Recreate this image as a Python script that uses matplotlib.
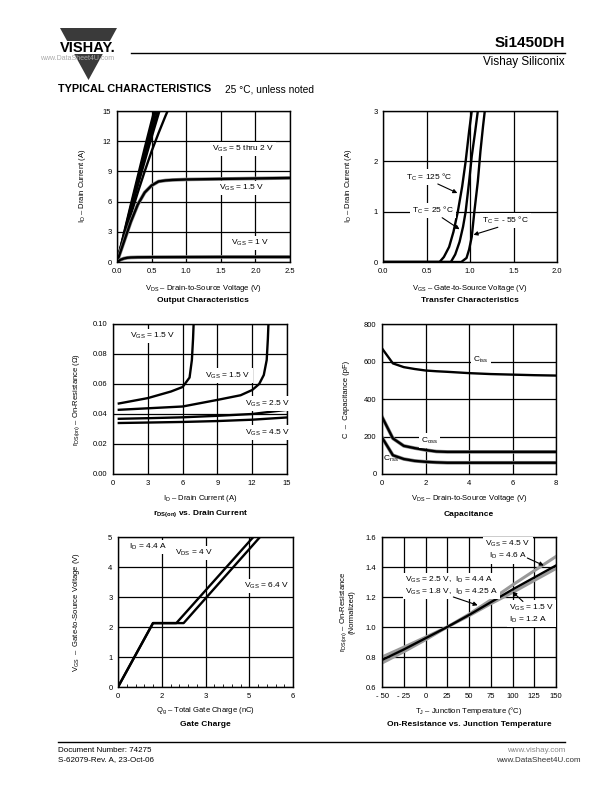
import matplotlib

matplotlib.use("Agg")
import matplotlib.pyplot as plt
from matplotlib.patches import Polygon, Rectangle

# ---- data ----
# Output characteristics (VDS in V, ID in A)
out_vds_steep = [0, 0.1, 0.2, 0.3, 0.4, 0.5, 0.6, 0.7]
out_id_5v = [0, 2.85, 5.7, 8.5, 11.3, 14.0, 16.6, 19.0]
out_id_4v = [0, 2.75, 5.5, 8.2, 10.9, 13.5, 16.0, 18.4]
out_id_3v = [0, 2.65, 5.3, 7.9, 10.4, 12.9, 15.3, 17.6]
out_id_25v = [0, 2.55, 5.1, 7.6, 10.0, 12.4, 14.7, 17.0]
out_vds_2v = [0, 0.1, 0.2, 0.3, 0.4, 0.5, 0.6, 0.7, 0.8]
out_id_2v = [0, 2.4, 4.7, 6.9, 9.0, 11.0, 12.8, 14.5, 16.1]
out_vds_15v = [0, 0.05, 0.1, 0.2, 0.3, 0.4, 0.5, 0.6, 0.7, 0.8, 1.0, 1.5, 2.0, 2.5]
out_id_15v = [0, 1.0, 2.0, 4.0, 5.7, 6.9, 7.6, 8.0, 8.1, 8.15, 8.2, 8.25, 8.3, 8.35]
out_vds_1v = [0, 0.05, 0.1, 0.15, 0.2, 0.3, 0.5, 1.0, 1.5, 2.0, 2.5]
out_id_1v = [0, 0.22, 0.35, 0.42, 0.45, 0.47, 0.48, 0.49, 0.5, 0.5, 0.5]

# Transfer characteristics (VGS in V, ID in A)
tr_vgs_125 = [0, 0.65, 0.7, 0.76, 0.81, 0.86, 0.91, 0.95, 0.99, 1.02]
tr_id_125 = [0, 0, 0.1, 0.3, 0.6, 1.0, 1.5, 2.0, 2.6, 3.0]
tr_vgs_25 = [0, 0.78, 0.83, 0.88, 0.92, 0.95, 0.99, 1.02, 1.06, 1.09]
tr_id_25 = [0, 0, 0.15, 0.4, 0.7, 1.0, 1.6, 2.1, 2.6, 3.0]
tr_vgs_m55 = [0, 0.9, 0.96, 0.99, 1.02, 1.05, 1.09, 1.12, 1.15, 1.17]
tr_id_m55 = [0, 0, 0.08, 0.25, 0.5, 1.0, 1.6, 2.2, 2.7, 3.0]

# rDS(on) vs drain current (ID in A, r in ohm)
ron_id_a = [0.5, 3, 5, 6, 6.6, 6.8, 6.9, 6.95]
ron_r_a = [0.047, 0.0506, 0.055, 0.058, 0.0643, 0.076, 0.09, 0.10]
ron_id_b = [0.5, 3, 6, 9, 11, 12, 12.6, 13.0, 13.25, 13.35, 13.4]
ron_r_b = [0.0428, 0.0438, 0.045, 0.0494, 0.0525, 0.056, 0.060, 0.066, 0.076, 0.09, 0.10]
ron_id_c = [0.5, 3, 6, 9, 12, 15]
ron_r_25v = [0.0368, 0.0372, 0.0378, 0.0388, 0.0400, 0.0428]
ron_r_45v = [0.0340, 0.0343, 0.0347, 0.0353, 0.0362, 0.0377]

# Capacitance (VDS in V, C in pF)
cap_vds = [0, 0.5, 1, 1.5, 2, 2.5, 3, 4, 5, 6, 7, 8]
cap_ciss = [670, 590, 570, 560, 552, 548, 545, 538, 533, 530, 527, 525]
cap_coss = [305, 190, 150, 138, 128, 120, 118, 118, 118, 118, 118, 118]
cap_crss = [195, 100, 80, 70, 65, 62, 60, 60, 60, 60, 60, 60]

# Gate charge (Qg in nC, VGS in V)
gc_qg_4v = [0, 1.2, 2.0, 4.64]
gc_vgs_4v = [0, 2.13, 2.13, 5.0]
gc_qg_64v = [0, 1.2, 2.25, 4.87]
gc_vgs_64v = [0, 2.13, 2.13, 5.0]
gc_ticks = [0, 1.5, 3, 4.5, 6]
gc_ticklabels = ["0", "2", "3", "5", "6"]

# On-resistance vs junction temperature
tj = [-50, -25, 0, 25, 50, 75, 100, 125, 150]
rn_45v = [0.78, 0.85, 0.925, 1.0, 1.08, 1.165, 1.25, 1.33, 1.41]
rn_25v = [0.80, 0.865, 0.932, 1.0, 1.085, 1.18, 1.28, 1.375, 1.47]
rn_15v = [0.76, 0.835, 0.915, 1.0, 1.075, 1.155, 1.23, 1.31, 1.39]
tj_ticklabels = ["- 50", "- 25", "0", "25", "50", "75", "100", "125", "150"]

W, H = 612, 792
plt.rcParams["font.family"] = ["Liberation Sans", "DejaVu Sans"]
plt.rcParams["mathtext.fontset"] = "custom"
plt.rcParams["mathtext.rm"] = "Liberation Sans"
plt.rcParams["mathtext.bf"] = "Liberation Sans:bold"
plt.rcParams["mathtext.default"] = "regular"

FS = 5.5
LFS = 6.0
LW = 1.7

fig = plt.figure(figsize=(W / 100, H / 100), dpi=100)
fig.patch.set_facecolor("white")


def add_ax(l, t, r, b):
    ax = fig.add_axes([l / W, 1 - b / H, (r - l) / W, (b - t) / H])
    for s in ax.spines.values():
        s.set_linewidth(1.0)
    ax.grid(True, color="black", lw=0.9)
    ax.set_axisbelow(True)
    ax.tick_params(length=0, labelsize=FS, pad=4)
    return ax


def ftext(x, y, s, **kw):
    kw.setdefault("fontsize", FS)
    fig.text(x / W, 1 - y / H, s, **kw)


def label(ax, x, y, s, **kw):
    kw.setdefault("ha", "center")
    kw.setdefault("va", "center")
    ax.text(x, y, s, fontsize=LFS, zorder=4,
            bbox=dict(facecolor="white", edgecolor="none", pad=1.5), **kw)


def arrow(ax, tail, head):
    ax.annotate("", xy=head, xytext=tail, zorder=5,
                arrowprops=dict(arrowstyle="-|>", lw=0.8, color="black",
                                mutation_scale=6, shrinkA=0, shrinkB=0))


# ---- Output characteristics ----
ax1 = add_ax(117, 111, 290, 262)
for ids in (out_id_5v, out_id_4v, out_id_3v, out_id_25v):
    ax1.plot(out_vds_steep, ids, color="black", lw=LW)
ax1.plot(out_vds_2v, out_id_2v, color="black", lw=LW)
ax1.plot(out_vds_15v, out_id_15v, color="#888888", lw=2.6)
ax1.plot(out_vds_15v, out_id_15v, color="black", lw=LW)
ax1.plot(out_vds_1v, out_id_1v, color="#888888", lw=2.6)
ax1.plot(out_vds_1v, out_id_1v, color="black", lw=LW)
ax1.set_xlim(0, 2.5)
ax1.set_ylim(0, 15)
ax1.set_xticks([0, 0.5, 1.0, 1.5, 2.0, 2.5])
ax1.set_xticklabels(["0.0", "0.5", "1.0", "1.5", "2.0", "2.5"])
ax1.set_yticks([0, 3, 6, 9, 12, 15])
label(ax1, 1.82, 11.2, r"V$_{GS}$ = 5 thru 2 V")
label(ax1, 1.8, 7.35, r"V$_{GS}$ = 1.5 V")
label(ax1, 1.93, 1.9, r"V$_{GS}$ = 1 V")
ftext(83, 186, r"I$_{D}$ – Drain Current (A)", rotation=90, ha="center", va="center")
ftext(203, 288, r"V$_{DS}$ – Drain-to-Source Voltage (V)", ha="center", va="center")
ftext(203, 301, "Output Characteristics", ha="center", va="center",
      fontweight="bold", fontsize=6)

# ---- Transfer characteristics ----
ax2 = add_ax(383, 111, 557, 262)
ax2.plot(tr_vgs_125, tr_id_125, color="black", lw=LW)
ax2.plot(tr_vgs_25, tr_id_25, color="black", lw=LW)
ax2.plot(tr_vgs_m55, tr_id_m55, color="black", lw=LW)
ax2.set_xlim(0, 2.0)
ax2.set_ylim(0, 3)
ax2.set_xticks([0, 0.5, 1.0, 1.5, 2.0])
ax2.set_xticklabels(["0.0", "0.5", "1.0", "1.5", "2.0"])
ax2.set_yticks([0, 1, 2, 3])
label(ax2, 0.53, 1.69, r"T$_{C}$ = 125 °C")
arrow(ax2, (0.63, 1.55), (0.855, 1.37))
label(ax2, 0.57, 1.02, r"T$_{C}$ = 25 °C")
arrow(ax2, (0.68, 0.88), (0.88, 0.65))
label(ax2, 1.41, 0.83, r"T$_{C}$ = - 55 °C")
arrow(ax2, (1.32, 0.69), (1.04, 0.54))
ftext(348, 186, r"I$_{D}$ – Drain Current (A)", rotation=90, ha="center", va="center")
ftext(470, 288, r"V$_{GS}$ – Gate-to-Source Voltage (V)", ha="center", va="center")
ftext(470, 301, "Transfer Characteristics", ha="center", va="center",
      fontweight="bold", fontsize=6)

# ---- rDS(on) vs drain current ----
ax3 = add_ax(113, 324, 287, 474)
ax3.plot(ron_id_a, ron_r_a, color="black", lw=LW)
ax3.plot(ron_id_b, ron_r_b, color="black", lw=LW)
ax3.plot(ron_id_c, ron_r_25v, color="black", lw=LW)
ax3.plot(ron_id_c, ron_r_45v, color="black", lw=LW)
ax3.set_xlim(0, 15)
ax3.set_ylim(0, 0.10)
ax3.set_xticks([0, 3, 6, 9, 12, 15])
ax3.set_yticks([0, 0.02, 0.04, 0.06, 0.08, 0.10])
ax3.set_yticklabels(["0.00", "0.02", "0.04", "0.06", "0.08", "0.10"])
label(ax3, 3.4, 0.092, r"V$_{GS}$ = 1.5 V")
label(ax3, 9.9, 0.0656, r"V$_{GS}$ = 1.5 V")
label(ax3, 13.3, 0.047, r"V$_{GS}$ = 2.5 V")
label(ax3, 13.3, 0.0277, r"V$_{GS}$ = 4.5 V")
ftext(77, 399, r"r$_{DS(on)}$ – On-Resistance (Ω)", rotation=90, ha="center", va="center")
ftext(200, 499, r"I$_{D}$ – Drain Current (A)", ha="center", va="center")
ftext(200, 514, r"r$_{\mathbf{DS(on)}}$ vs. Drain Current", ha="center", va="center",
      fontweight="bold", fontsize=6)

# ---- Capacitance ----
ax4 = add_ax(382, 324, 556, 474)
ax4.plot(cap_vds, cap_ciss, color="black", lw=LW)
ax4.plot(cap_vds, cap_coss, color="#888888", lw=2.6)
ax4.plot(cap_vds, cap_coss, color="black", lw=LW)
ax4.plot(cap_vds, cap_crss, color="#888888", lw=2.6)
ax4.plot(cap_vds, cap_crss, color="black", lw=LW)
ax4.set_xlim(0, 8)
ax4.set_ylim(0, 800)
ax4.set_xticks([0, 2, 4, 6, 8])
ax4.set_yticks([0, 200, 400, 600, 800])
label(ax4, 4.55, 608, r"C$_{iss}$")
label(ax4, 2.17, 179, r"C$_{oss}$")
ax4.text(0.43, 80, r"C$_{rss}$", fontsize=LFS, ha="center", va="center")
ftext(347, 399, "C  –  Capacitance (pF)", rotation=90, ha="center", va="center")
ftext(469, 499, r"V$_{DS}$ – Drain-to-Source Voltage (V)", ha="center", va="center")
ftext(469, 514, "Capacitance", ha="center", va="center", fontweight="bold", fontsize=6)

# ---- Gate charge ----
ax5 = add_ax(118, 537, 293, 687)
ax5.plot(gc_qg_4v, gc_vgs_4v, color="black", lw=LW)
ax5.plot(gc_qg_64v, gc_vgs_64v, color="black", lw=LW)
ax5.set_xlim(0, 6)
ax5.set_ylim(0, 5)
ax5.set_xticks(gc_ticks)
ax5.set_xticklabels(gc_ticklabels)
ax5.set_xticks([i * 0.3 for i in range(21)], minor=True)
ax5.tick_params(axis="x", which="minor", direction="in", length=2, width=0.6)
ax5.set_yticks([0, 1, 2, 3, 4, 5])
label(ax5, 0.37, 4.66, r"I$_{D}$ = 4.4 A", ha="left")
label(ax5, 2.6, 4.46, r"V$_{DS}$ = 4 V")
label(ax5, 5.1, 3.37, r"V$_{GS}$ = 6.4 V")
ftext(77, 612, r"V$_{GS}$  –  Gate-to-Source Voltage (V)", rotation=90, ha="center", va="center")
ftext(205, 711, r"Q$_{g}$ – Total Gate Charge (nC)", ha="center", va="center")
ftext(205, 724, "Gate Charge", ha="center", va="center", fontweight="bold", fontsize=6)

# ---- On-resistance vs junction temperature ----
ax6 = add_ax(382, 537, 556, 687)
ax6.plot(tj, rn_25v, color="#999999", lw=2.2)
ax6.plot(tj, rn_15v, color="#999999", lw=2.2)
ax6.plot(tj, rn_45v, color="black", lw=LW)
ax6.set_xlim(-50, 150)
ax6.set_ylim(0.6, 1.6)
ax6.set_xticks(tj)
ax6.set_xticklabels(tj_ticklabels)
ax6.set_yticks([0.6, 0.8, 1.0, 1.2, 1.4, 1.6])
ax6.set_yticklabels(["0.6", "0.8", "1.0", "1.2", "1.4", "1.6"])
label(ax6, 95, 1.512, "V$_{GS}$ = 4.5 V\nI$_{D}$ = 4.6 A", linespacing=1.3)
arrow(ax6, (117, 1.46), (136, 1.41))
label(ax6, -24, 1.273, "V$_{GS}$ = 2.5 V,  I$_{D}$ = 4.4 A\nV$_{GS}$ = 1.8 V,  I$_{D}$ = 4.25 A",
      ha="left", linespacing=1.3)
arrow(ax6, (32, 1.2), (60, 1.145))
label(ax6, 96, 1.088, "V$_{GS}$ = 1.5 V\nI$_{D}$ = 1.2 A", ha="left", linespacing=1.3)
arrow(ax6, (112, 1.17), (100, 1.235))
ftext(347, 612, "r$_{DS(on)}$ – On-Resistance\n(Normalized)", rotation=90,
      ha="center", va="center", linespacing=1.0)
ftext(469, 711, r"T$_{J}$ – Junction Temperature (°C)", ha="center", va="center")
ftext(469, 724, "On-Resistance vs. Junction Temperature", ha="center", va="center",
      fontweight="bold", fontsize=6)

# ---- page header / footer ----
page = fig.add_axes([0, 0, 1, 1], zorder=-1)
page.set_xlim(0, W)
page.set_ylim(H, 0)
page.axis("off")
page.add_patch(Polygon([(60, 28), (117, 28), (88.5, 80)], closed=True,
                       facecolor="#3a3a3a", edgecolor="none"))
page.add_patch(Rectangle((50, 40.5), 80, 13, facecolor="white", edgecolor="none"))
page.text(88, 47.5, "VISHAY.", fontsize=10.5, fontweight="black", ha="center", va="center")
page.text(77, 58, "www.DataSheet4U.com", fontsize=5.0, color="#aaaaaa", ha="center", va="center")
page.plot([131, 565], [53, 53], color="black", lw=1.0)
page.text(565, 43, "Si1450DH", fontsize=11, fontweight="bold", ha="right", va="center")
page.text(565, 62, "Vishay Siliconix", fontsize=8.5, ha="right", va="center")
page.text(58, 89, "TYPICAL CHARACTERISTICS", fontsize=7.8, fontweight="black",
          ha="left", va="center")
page.text(225, 89, "25 °C, unless noted", fontsize=7.3, ha="left", va="center")
page.plot([58, 565], [742, 742], color="black", lw=1.0)
page.text(58, 750, "Document Number: 74275", fontsize=5.8, ha="left", va="center")
page.text(58, 760, "S-62079-Rev. A, 23-Oct-06", fontsize=5.8, ha="left", va="center")
page.text(565, 750, "www.vishay.com", fontsize=5.8, color="#888888", ha="right", va="center")
page.text(581, 760, "www.DataSheet4U.com", fontsize=5.8, color="#333333", ha="right", va="center")

fig.savefig("out.png", dpi=100)
